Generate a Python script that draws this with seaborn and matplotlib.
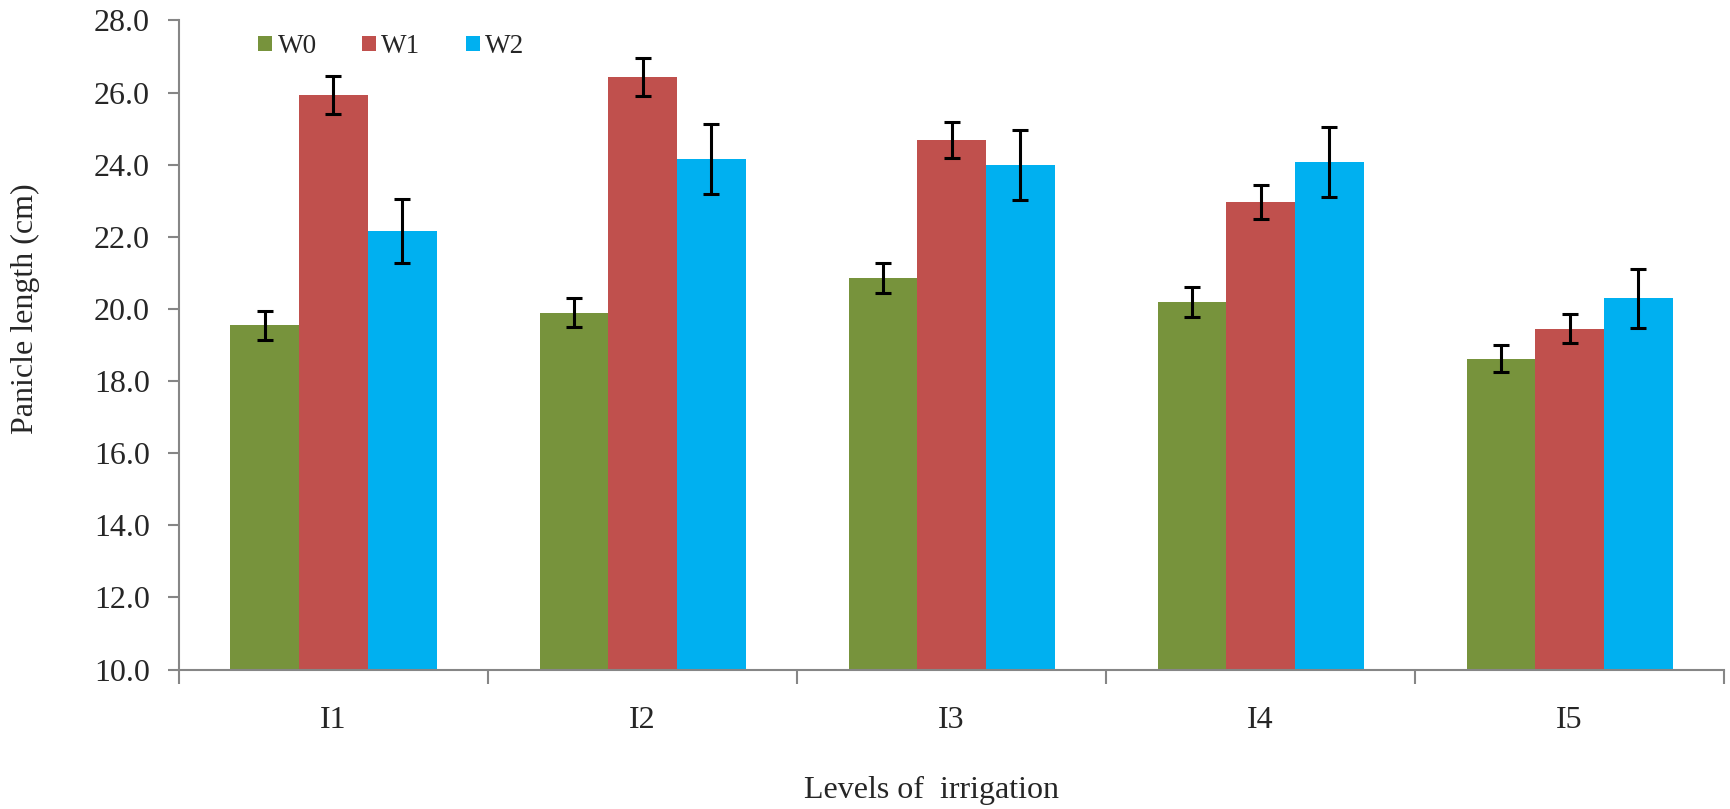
import numpy as np
import pandas as pd
import matplotlib
matplotlib.use("Agg")
import matplotlib.pyplot as plt
from matplotlib.ticker import FixedLocator, FormatStrFormatter, NullFormatter
import seaborn as sns

# Panicle length by irrigation level and treatment
levels = ["I1", "I2", "I3", "I4", "I5"]
treatments = ["W0", "W1", "W2"]
w0_mean = [19.55, 19.90, 20.86, 20.19, 18.62]
w1_mean = [25.93, 26.43, 24.68, 22.96, 19.45]
w2_mean = [22.16, 24.16, 24.00, 24.07, 20.30]
w0_err = [0.40, 0.41, 0.42, 0.41, 0.38]
w1_err = [0.52, 0.53, 0.50, 0.47, 0.40]
w2_err = [0.89, 0.97, 0.97, 0.97, 0.82]
colors = ["#77933C", "#C0504D", "#00B0F0"]

means = [w0_mean, w1_mean, w2_mean]
errs = [w0_err, w1_err, w2_err]
df = pd.DataFrame({
    "level": np.tile(levels, len(treatments)),
    "treatment": np.repeat(treatments, len(levels)),
    "value": np.concatenate(means),
    "err": np.concatenate(errs),
})

sns.set_style("ticks")
plt.rcParams["font.family"] = ["Liberation Serif", "DejaVu Serif"]

FS = 23

fig = plt.figure(figsize=(17.31, 8.09), dpi=100)
ax = fig.add_axes([0.1034, 0.1724, 0.8926, 0.8023])

sns.barplot(data=df, x="level", y="value", hue="treatment",
            order=levels, hue_order=treatments, palette=colors,
            errorbar=None, width=2 / 3, gap=0, saturation=1,
            linewidth=0, ax=ax)

# error bars centred on each drawn bar
for cont, err in zip(ax.containers, errs):
    xs = [p.get_x() + p.get_width() / 2 for p in cont.patches]
    ys = [p.get_height() for p in cont.patches]
    ax.errorbar(xs, ys, yerr=err, fmt="none", ecolor="black",
                elinewidth=2.2, capsize=6, capthick=2.2, zorder=5)

ax.set_ylim(10, 28)
ax.set_xlim(-0.5, len(levels) - 0.5)
ax.set_yticks(np.arange(10, 28.1, 2))
ax.yaxis.set_major_formatter(FormatStrFormatter("%.1f"))

# category boundary ticks, labels at the centres
ax.xaxis.set_minor_locator(FixedLocator(np.arange(-0.5, len(levels), 1.0)))
ax.xaxis.set_minor_formatter(NullFormatter())
ax.tick_params(axis="x", which="major", length=0, pad=26, labelsize=FS)
ax.tick_params(axis="x", which="minor", length=10, width=1.5, color="#868686")
ax.tick_params(axis="y", length=8, width=1.5, color="#868686", pad=13,
               labelsize=FS)

for side in ["top", "right"]:
    ax.spines[side].set_visible(False)
for side in ["left", "bottom"]:
    ax.spines[side].set_color("#868686")
    ax.spines[side].set_linewidth(1.5)

ax.set_ylabel("Panicle length (cm)", fontsize=FS, labelpad=39)
ax.set_xlabel("Levels of  irrigation", fontsize=FS, labelpad=30)
ax.xaxis.label.set_x(0.487)
ax.yaxis.label.set_y(0.556)

sns.move_legend(ax, "upper left", bbox_to_anchor=(258 / 1731, 1 - 34 / 809),
                bbox_transform=fig.transFigure, ncol=3, frameon=False,
                title=None, fontsize=19.5, handlelength=0.52,
                handleheight=0.52, handletextpad=0.2, columnspacing=1.67,
                borderpad=0, borderaxespad=0)

fig.savefig("out.png", dpi=100)
